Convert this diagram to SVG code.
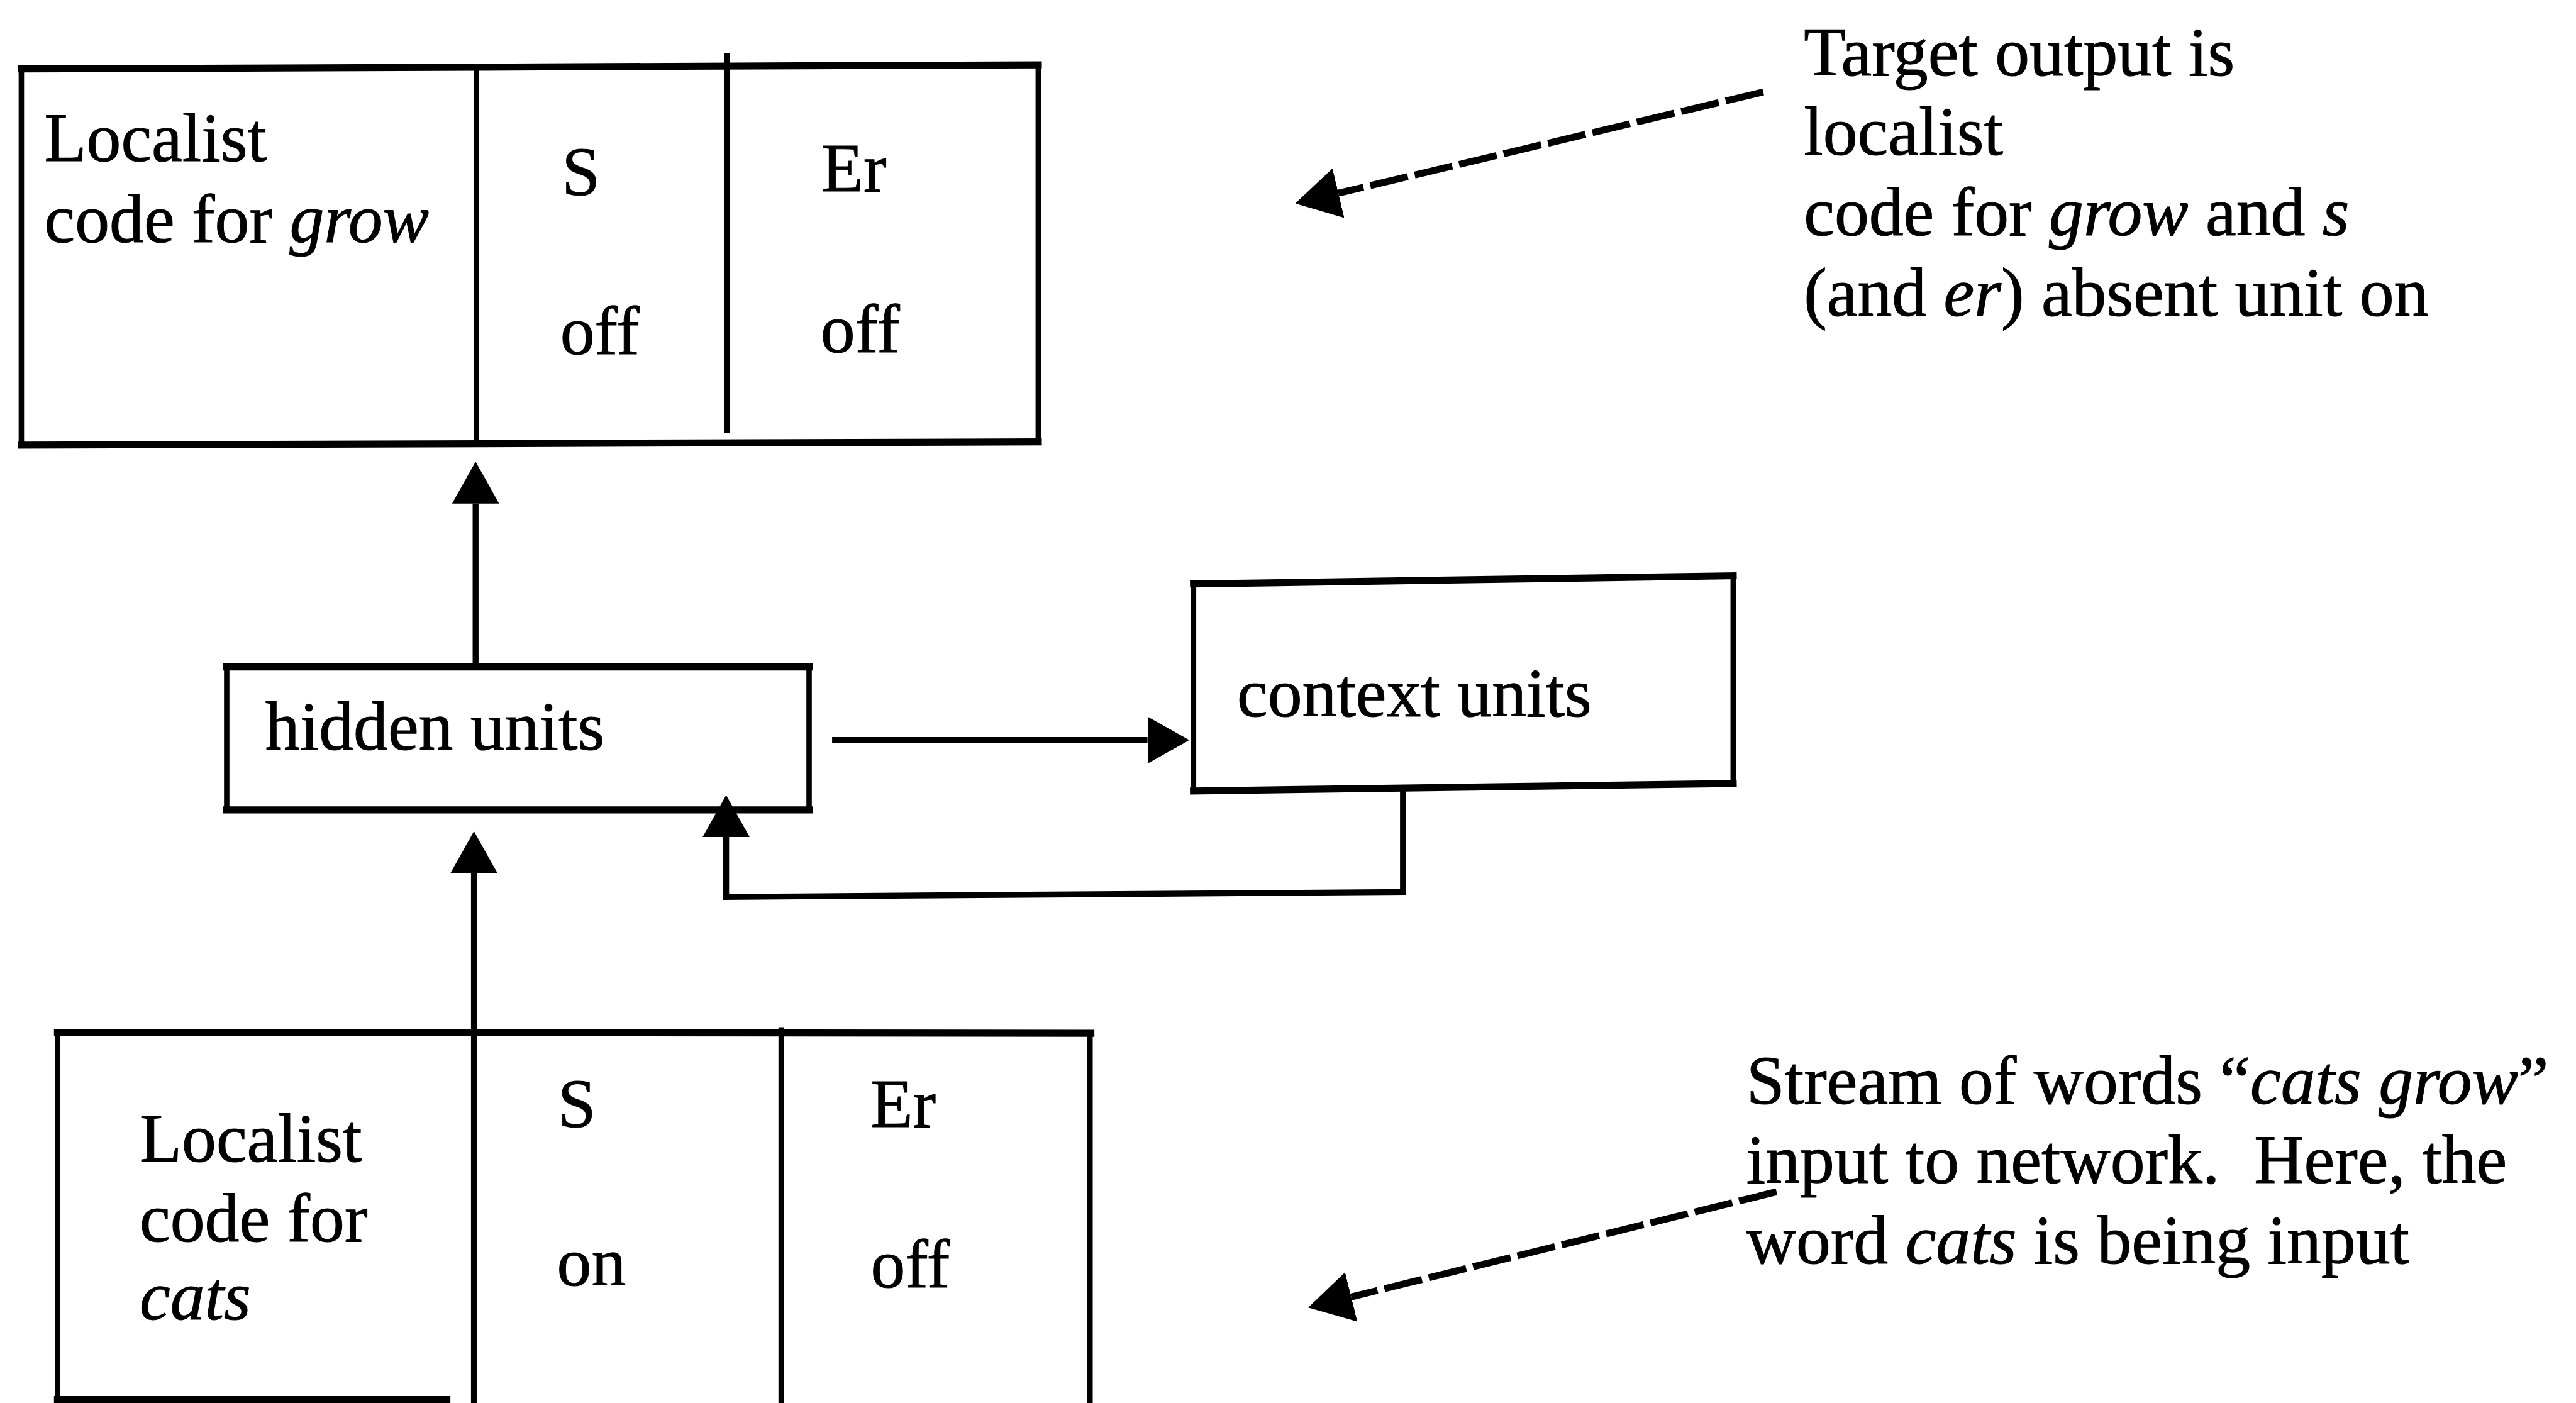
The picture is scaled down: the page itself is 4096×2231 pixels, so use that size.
<svg xmlns="http://www.w3.org/2000/svg" width="4096" height="2231" viewBox="0 0 4096 2231">
  <defs>
    <style>
      .ln { stroke:#000; fill:none; stroke-linecap:square; }
      .h { stroke-width:4.3; }
      .v { stroke-width:3.3; }
      .cn { stroke:#000; fill:none; stroke-width:3.6; stroke-linecap:butt; stroke-linejoin:miter; }
      .dash { stroke:#000; fill:none; stroke-width:4.2; stroke-dasharray:23.5 4.3; stroke-linecap:butt; }
      text { font-family:"Liberation Serif","Times New Roman",serif; font-size:42px; fill:#000; stroke:#000; stroke-width:0.4; white-space:pre; }
      .it { font-style:italic; }
    </style>
    <!-- solid arrowhead: base sits on the line end, tip points forward -->
    <marker id="head" viewBox="0 0 25.5 28.6" refX="0" refY="14.3" markerWidth="25.5" markerHeight="28.6" markerUnits="userSpaceOnUse" orient="auto">
      <path d="M0,0 L25.5,14.3 L0,28.6 z" fill="#000"/>
    </marker>
    <!-- arrowhead for the dashed pointer lines -->
    <marker id="dhead" viewBox="0 0 27 31" refX="0" refY="15.5" markerWidth="27" markerHeight="31" markerUnits="userSpaceOnUse" orient="auto">
      <path d="M0,0 L27,15.5 L0,31 z" fill="#000"/>
    </marker>
  </defs>

  <rect x="0" y="0" width="4096" height="2231" fill="#fff"/>

  <g transform="scale(2.6122)">
    <!-- output layer -->
    <g id="output-layer">
      <path class="ln h" d="M13,42 L632,39.5"/>
      <path class="ln h" d="M13,271 L632,269"/>
      <path class="ln v" d="M13,42 V271"/>
      <path class="ln v" d="M632,39.5 V269"/>
      <path class="ln v" d="M290,41 V270"/>
      <path class="ln v" d="M442.5,34 V262"/>
      <text x="27" y="98">Localist</text>
      <text x="27" y="147.5">code for <tspan class="it">grow</tspan></text>
      <text x="342" y="118.5">S</text>
      <text x="500" y="116.5">Er</text>
      <text x="341" y="215.5">off</text>
      <text x="499.5" y="214.5">off</text>
    </g>

    <!-- hidden layer -->
    <g id="hidden-units">
      <path class="ln h" d="M138,406 H492.5"/>
      <path class="ln h" d="M138,493 H492.5"/>
      <path class="ln v" d="M138,406 V493"/>
      <path class="ln v" d="M492.5,406 V493"/>
      <text x="161.5" y="456.5">hidden units</text>
    </g>

    <!-- context layer -->
    <g id="context-units">
      <path class="ln h" d="M726.5,355.5 L1055,350.5"/>
      <path class="ln h" d="M726.5,481.5 L1055,477"/>
      <path class="ln v" d="M726.5,355.5 V481.5"/>
      <path class="ln v" d="M1055,350.5 V477"/>
      <text x="753" y="436">context units</text>
    </g>

    <!-- input layer (runs off the bottom edge) -->
    <g id="input-layer">
      <path class="ln h" d="M35,628.5 L664,629"/>
      <path class="ln h" d="M35,852 H272"/>
      <path class="ln v" d="M35,628.5 V852"/>
      <path class="ln v" d="M663.5,629 V860"/>
      <path class="ln v" d="M475.5,627 V853"/>
      <text x="85" y="707">Localist</text>
      <text x="85" y="755.5">code for</text>
      <text x="85" y="803" class="it">cats</text>
      <text x="339.5" y="686">S</text>
      <text x="530" y="686">Er</text>
      <text x="339" y="782.5">on</text>
      <text x="530" y="783.5">off</text>
    </g>

    <!-- annotations -->
    <g id="note-target">
      <text x="1098" y="46">Target output is</text>
      <text x="1098" y="94">localist</text>
      <text x="1098" y="143">code for <tspan class="it">grow</tspan> and <tspan class="it">s</tspan></text>
      <text x="1098" y="192">(and <tspan class="it">er</tspan>) absent unit on</text>
    </g>
    <g id="note-input">
      <text x="1063" y="672">Stream of words “<tspan class="it">cats grow</tspan>”</text>
      <text x="1063" y="720">input to network.  Here, the</text>
      <text x="1063" y="769">word <tspan class="it">cats</tspan> is being input</text>
    </g>

    <!-- connectors -->
    <g id="connectors">
      <path class="cn" d="M289.5,406 V306.5" marker-end="url(#head)"/>
      <path class="cn" d="M288.5,860 V531.5" marker-end="url(#head)"/>
      <path class="cn" d="M506.5,450.5 H698.5" stroke-width="4.5" marker-end="url(#head)"/>
      <path class="cn" d="M854,479 V543 L442,546 V509.5" marker-end="url(#head)"/>
      <path class="dash" d="M1073.3,56 L814.7,117.6" marker-end="url(#dhead)"/>
      <path class="dash" d="M1081.4,725.5 L822.5,789.5" marker-end="url(#dhead)"/>
    </g>
  </g>
</svg>
